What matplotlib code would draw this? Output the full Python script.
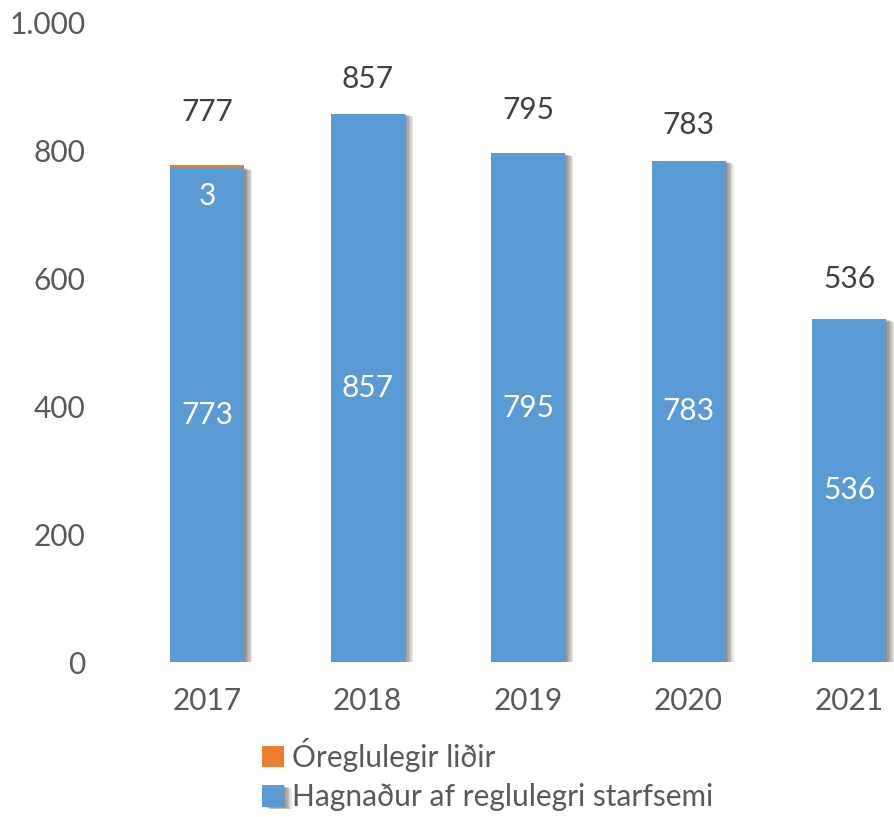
import matplotlib.pyplot as plt
import matplotlib.patheffects as pe
import numpy as np

years = ["2017", "2018", "2019", "2020", "2021"]
reglulegt = [773, 857, 795, 783, 536]
oreglulegir = [3, 0, 0, 0, 0]
totals = [777, 857, 795, 783, 536]
yticks = [0, 200, 400, 600, 800, 1000]
ytick_labels = ["0", "200", "400", "600", "800", "1.000"]

blue = "#5B9BD5"
orange = "#ED7D31"
grey = "#595959"
fs = 21.5

plt.rcParams["font.family"] = ["Lato", "DejaVu Sans"]

fig = plt.figure(figsize=(8.94, 8.17), dpi=100)
ax = fig.add_axes([127 / 894, 155 / 817, 767 / 894, 640 / 817])

# soft drop shadow like the office chart
shadow = [pe.SimplePatchShadow(offset=(d, -0.35 * d), shadow_rgbFace="black", alpha=0.09)
          for d in (1, 2, 3, 4, 5, 6)] + [pe.Normal()]

x = np.arange(len(years))
b1 = ax.bar(x, reglulegt, width=0.46, color=blue, label="Hagnaður af reglulegri starfsemi",
            path_effects=shadow, zorder=2)
b2 = ax.bar(x, oreglulegir, width=0.46, bottom=reglulegt, color=orange,
            label="Óreglulegir liðir", zorder=2)

# value labels inside bars
for xi, v in zip(x, reglulegt):
    ax.text(xi, v / 2, str(v), ha="center", va="center", color="white", fontsize=fs, zorder=3)
for xi, v, base in zip(x, oreglulegir, reglulegt):
    if v:
        ax.annotate(str(v), (xi, base + v), xytext=(0, -22), textcoords="offset points",
                    ha="center", va="center", color="white", fontsize=fs, zorder=3)

# totals above bars
label_pad = [38, 25, 31, 26, 29]
for xi, t, p in zip(x, totals, label_pad):
    ax.annotate(str(t), (xi, t), xytext=(0, p), textcoords="offset points",
                ha="center", va="center", color="#404040", fontsize=fs)

ax.set_xlim(-0.5, 4.28)
ax.set_ylim(0, 1000)
ax.set_yticks(yticks)
ax.set_yticklabels(ytick_labels)
ax.set_xticks(x)
ax.set_xticklabels(years)
ax.tick_params(axis="both", length=0, labelsize=fs, labelcolor=grey)
ax.tick_params(axis="y", pad=30)
ax.tick_params(axis="x", pad=18)
for s in ax.spines.values():
    s.set_visible(False)

handles = [b2, b1]
ax.legend(handles, [h.get_label() for h in handles], loc="upper left",
          bbox_to_anchor=(262 / 894, 79 / 817), bbox_transform=fig.transFigure,
          frameon=False, fontsize=fs, handlelength=0.72, handleheight=0.72,
          handletextpad=0.28, labelspacing=0.38, borderpad=0, borderaxespad=0,
          labelcolor=grey)

fig.savefig("out.png", dpi=100)
